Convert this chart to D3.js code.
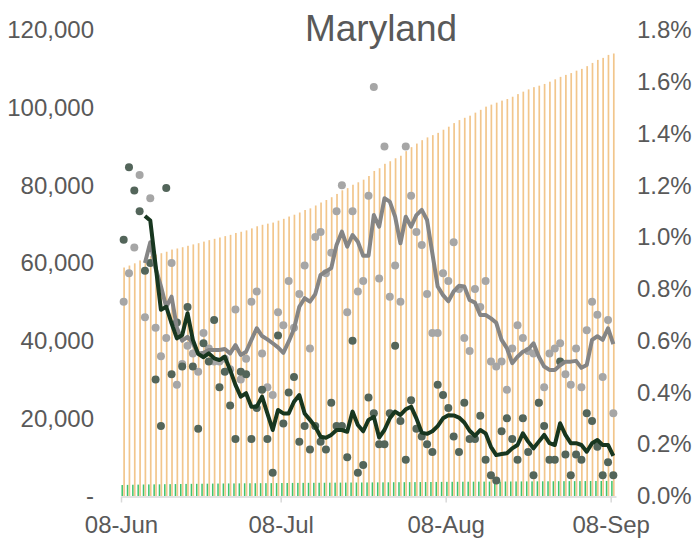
<!DOCTYPE html>
<html>
<head>
<meta charset="utf-8">
<script src="https://cdn.jsdelivr.net/npm/d3@7"></script>
<style>
  body { margin: 0; background: #fff; }
  svg text { font-family: "Liberation Sans", Arial, sans-serif; fill: #595959; }
</style>
</head>
<body>
<script>
// days from 08-Jun to 08-Sep
const startDay = new Date(2020, 5, 8)
const days = d3.timeDay.range(startDay, new Date(2020, 8, 9))
const dateTicks = [new Date(2020, 5, 8), new Date(2020, 6, 8), new Date(2020, 7, 8), new Date(2020, 8, 8)]
const leftTicks = [0, 20000, 40000, 60000, 80000, 100000, 120000]
const rightTicks = [0, 0.2, 0.4, 0.6, 0.8, 1.0, 1.2, 1.4, 1.6, 1.8]

// cumulative cases (left axis)
const totalCases = [58840,59346,59916,60659,61078,61780,62182,62518,62899,63465,
  63738,64063,64435,64789,65100,65510,65883,66226,66570,66923,
  67251,67735,68040,68401,68914,69458,69840,70133,70407,70907,
  71375,71967,72435,73000,73650,74070,74811,75574,76224,76941,
  77787,78720,79279,80151,80784,81455,82400,83702,84405,85544,
  86203,86970,87622,88805,89835,90751,91631,92346,92928,93513,
  94317,95100,96032,96800,97390,97935,98718,99439,100264,100785,
  101289,101816,102233,102816,103495,104126,104709,105285,105664,106108,
  106692,107300,107933,108440,108906,109527,109987,110691,111521,112302,
  112819,113586,113949]

// cumulative deaths (left axis)
const totalDeaths = [2830,2866,2900,2932,2958,2985,2998,3006,3042,3056,
  3076,3091,3114,3130,3138,3157,3173,3195,3208,3223,
  3234,3241,3257,3272,3279,3290,3303,3310,3313,3334,
  3343,3356,3371,3378,3387,3393,3402,3409,3415,3427,
  3436,3445,3450,3471,3474,3478,3491,3502,3509,3516,
  3527,3547,3557,3562,3575,3584,3592,3599,3605,3620,
  3634,3646,3654,3660,3673,3681,3689,3700,3705,3708,
  3710,3719,3730,3738,3743,3754,3760,3763,3777,3787,
  3792,3797,3817,3823,3826,3832,3837,3849,3860,3867,
  3870,3875,3878]

// daily growth of cases, % (right axis)
const caseGrowth = [0.75,0.86,0.96,1.24,0.69,1.15,0.65,0.54,0.61,0.90,
  0.43,0.51,0.58,0.55,0.48,0.63,0.57,0.52,0.52,0.53,
  0.49,0.72,0.45,0.53,0.75,0.79,0.55,0.42,0.39,0.71,
  0.66,0.83,0.65,0.78,0.89,0.57,1.00,1.02,0.86,0.94,
  1.10,1.20,0.71,1.10,0.79,0.83,1.16,1.58,0.84,1.35,
  0.77,0.89,0.75,1.35,1.16,1.02,0.97,0.78,0.63,0.63,
  0.86,0.83,0.98,0.80,0.61,0.56,0.80,0.73,0.83,0.52,
  0.50,0.52,0.41,0.57,0.66,0.61,0.56,0.55,0.36,0.42,
  0.55,0.57,0.59,0.47,0.43,0.57,0.42,0.64,0.75,0.70,
  0.46,0.68,0.32]

// daily growth of deaths, % (right axis)
const deathGrowth = [0.99,1.27,1.18,1.10,0.87,0.90,0.45,0.27,1.19,0.47,
  0.67,0.50,0.73,0.50,0.26,0.59,0.52,0.68,0.42,0.48,
  0.35,0.22,0.48,0.47,0.22,0.34,0.41,0.22,0.09,0.62,
  0.28,0.40,0.46,0.21,0.27,0.18,0.27,0.21,0.18,0.36,
  0.27,0.27,0.15,0.60,0.09,0.12,0.38,0.32,0.20,0.20,
  0.32,0.58,0.29,0.14,0.37,0.26,0.23,0.20,0.17,0.43,
  0.39,0.34,0.23,0.17,0.36,0.22,0.22,0.31,0.14,0.08,
  0.06,0.25,0.30,0.22,0.14,0.30,0.17,0.08,0.36,0.27,
  0.14,0.14,0.52,0.16,0.08,0.16,0.14,0.32,0.29,0.19,
  0.08,0.13,0.08]

// moving average lines
const caseGrowthAvg = [null,null,null,null,0.90,0.98,0.88,0.81,0.73,0.77,
  0.65,0.60,0.615,0.59,0.55,0.553,0.564,0.564,0.564,0.568,
  0.551,0.583,0.545,0.557,0.603,0.648,0.618,0.605,0.590,0.574,
  0.553,0.596,0.645,0.731,0.764,0.751,0.780,0.854,0.867,0.880,
  0.970,1.021,0.963,1.008,0.982,0.928,0.928,1.085,1.040,1.150,
  1.137,1.079,0.976,1.079,1.040,1.085,1.105,1.066,0.937,0.809,
  0.776,0.752,0.790,0.812,0.809,0.757,0.747,0.699,0.699,0.686,
  0.669,0.603,0.571,0.513,0.538,0.557,0.567,0.590,0.538,0.500,
  0.487,0.487,0.505,0.519,0.519,0.522,0.495,0.506,0.603,0.617,
  0.603,0.648,0.587]

const deathGrowthAvg = [null,null,null,null,1.082,1.064,0.89,0.719,0.731,0.667,
  0.609,0.622,0.706,0.603,0.549,0.536,0.551,0.532,0.525,0.538,
  0.487,0.429,0.384,0.397,0.345,0.345,0.384,0.319,0.255,0.332,
  0.319,0.319,0.364,0.390,0.319,0.294,0.268,0.229,0.225,0.236,
  0.255,0.255,0.248,0.326,0.274,0.250,0.294,0.306,0.226,0.255,
  0.300,0.326,0.313,0.335,0.345,0.300,0.245,0.240,0.250,0.270,
  0.300,0.312,0.311,0.303,0.284,0.252,0.232,0.255,0.242,0.190,
  0.158,0.162,0.165,0.184,0.197,0.242,0.210,0.184,0.210,0.236,
  0.204,0.197,0.281,0.236,0.204,0.204,0.197,0.171,0.204,0.216,
  0.197,0.197,0.155]

var svg = d3.select("body").append("svg")
  .attr("width", 696)
  .attr("height", 540)

var x = d3.scaleTime()
  .domain([startDay, new Date(2020, 8, 9)])
  .range([121, 616])
var yL = d3.scaleLinear().domain([0, 120000]).range([496, 30])
var yR = d3.scaleLinear().domain([0, 1.8]).range([496, 30])

// centre of a day slot
const xc = i => x(d3.timeHour.offset(days[i], 12))

// title
svg.append("text")
  .attr("x", 381).attr("y", 41)
  .attr("text-anchor", "middle")
  .style("font-size", "37px")
  .text("Maryland")

// orange columns - total cases
svg.append("g").selectAll("rect")
  .data(totalCases)
  .join("rect")
  .attr("x", (d, i) => xc(i) - 0.4)
  .attr("width", 1.7)
  .attr("y", d => yL(d))
  .attr("height", d => yL(0) - yL(d))
  .attr("fill", "#f2c68c")

// green columns - total deaths
svg.append("g").selectAll("rect")
  .data(totalDeaths)
  .join("rect")
  .attr("x", (d, i) => xc(i) - 2.2)
  .attr("width", 1.5)
  .attr("y", d => yL(d))
  .attr("height", d => yL(0) - yL(d))
  .attr("fill", "#3ec46d")

// bottom axis
var xAxis = svg.append("g")
  .attr("transform", "translate(0,496.5)")
  .call(d3.axisBottom(x).tickValues(dateTicks).tickFormat(d3.timeFormat("%d-%b"))
    .tickSize(6).tickSizeOuter(0).tickPadding(13))
xAxis.select(".domain").attr("stroke", "#d9d9d9").attr("stroke-width", 1.5)
xAxis.selectAll(".tick line").attr("stroke", "#d9d9d9").attr("stroke-width", 1.5)
xAxis.selectAll("text").style("font-size", "24px").attr("fill", "#595959")

// left axis
var leftAxis = svg.append("g")
  .attr("transform", "translate(94,0)")
  .call(d3.axisLeft(yL).tickValues(leftTicks)
    .tickFormat(d => d === 0 ? "-" : d3.format(",")(d))
    .tickSize(0).tickPadding(0))
leftAxis.select(".domain").remove()
leftAxis.selectAll("text").style("font-size", "24px").attr("fill", "#595959")

// right axis
var rightAxis = svg.append("g")
  .attr("transform", "translate(637,0)")
  .call(d3.axisRight(yR).tickValues(rightTicks)
    .tickFormat(d => d.toFixed(1) + "%")
    .tickSize(0).tickPadding(0))
rightAxis.select(".domain").remove()
rightAxis.selectAll("text").style("font-size", "24px").attr("fill", "#595959")

// dots
svg.append("g").selectAll("circle")
  .data(caseGrowth)
  .join("circle")
  .attr("cx", (d, i) => xc(i))
  .attr("cy", d => yR(d))
  .attr("r", 4)
  .style("fill", "#a6a6a6")

svg.append("g").selectAll("circle")
  .data(deathGrowth)
  .join("circle")
  .attr("cx", (d, i) => xc(i))
  .attr("cy", d => yR(d))
  .attr("r", 4)
  .style("fill", "#53655a")

// moving average lines
var line = d3.line()
  .defined(d => d != null)
  .x((d, i) => xc(i))
  .y(d => yR(d))

svg.append("path")
  .datum(caseGrowthAvg)
  .attr("d", line)
  .attr("fill", "none")
  .attr("stroke", "#858585")
  .attr("stroke-width", 4)
  .attr("stroke-linejoin", "round")

svg.append("path")
  .datum(deathGrowthAvg)
  .attr("d", line)
  .attr("fill", "none")
  .attr("stroke", "#17361f")
  .attr("stroke-width", 4)
  .attr("stroke-linejoin", "round")
</script>
</body>
</html>
